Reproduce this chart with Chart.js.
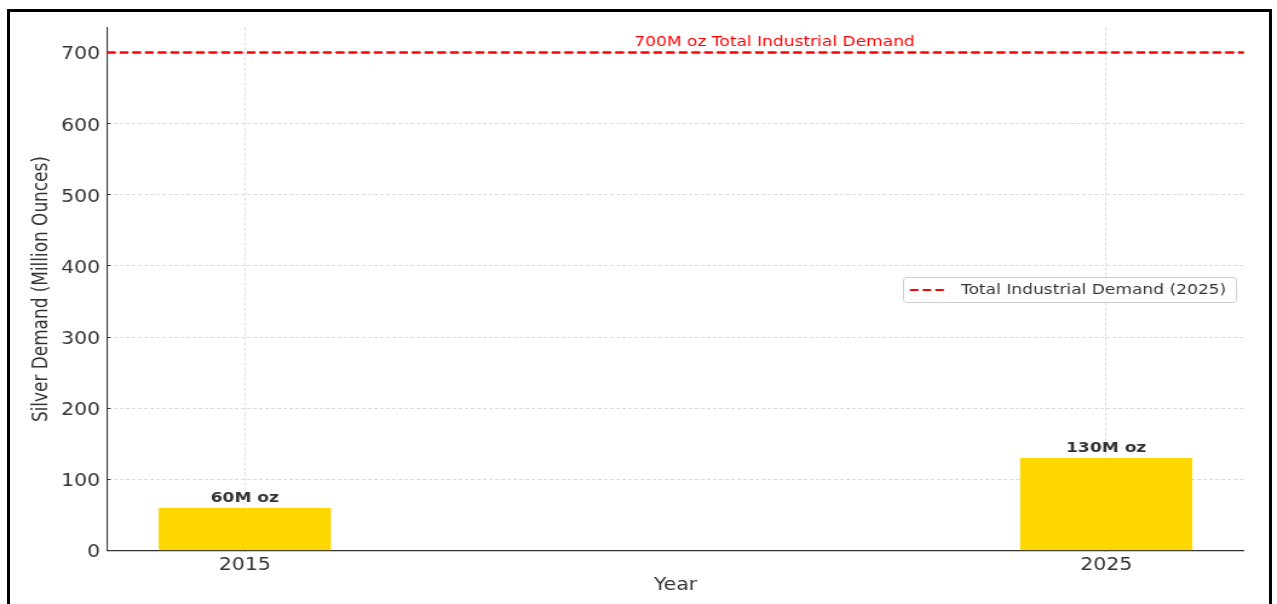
<!DOCTYPE html>
<html>
<head>
<meta charset="utf-8">
<script src="https://cdn.jsdelivr.net/npm/chart.js@4.4.1/dist/chart.umd.min.js"></script>
<style>
  html, body { margin: 0; padding: 0; background: #fff; width: 1277px; height: 604px; overflow: hidden; }
  /* the plot is drawn on a narrower canvas and widened horizontally */
  #plot { position: absolute; left: 0; top: 0; transform: scaleX(1.2104); transform-origin: 0 0; }
  #frame { position: absolute; left: 7px; top: 9px; width: 1265px; height: 660px; box-sizing: border-box;
           border: 3px solid #000; border-bottom: none; pointer-events: none; }
</style>
</head>
<body>
<canvas id="plot" width="1055" height="604"></canvas>
<div id="frame"></div>
<script>
// ---- data ----
const years = [2015, 2025];
const demand = [60, 130];                 // million ounces
const totalDemand = 700;                  // total industrial demand, 2025
const totalSeriesLabel = 'Total Industrial Demand (2025)';
const yTickValues = [0, 100, 200, 300, 400, 500, 600, 700];
const xRange = [2013.4, 2026.6];
const yRange = [0, 735];
const noteX = 2021.15;                    // where the red note is centred

// ---- styles ----
const FONT = "'DejaVu Sans', sans-serif";
const INK = '#333333';
const GRID = '#d0d0d0';
const GOLD = '#FFD700';
const RED = '#ff0000';
const SMALL = 14.1;
const LARGE = 16.9;

Chart.defaults.font.family = FONT;

const overlay = {
  id: 'overlay',
  afterDraw(chart) {
    const ctx = chart.ctx;
    const area = chart.chartArea;
    const xs = chart.scales.x, ys = chart.scales.y;

    // keep the dashed total line above the grid
    const lineMeta = chart.getDatasetMeta(1);
    ctx.save();
    ctx.beginPath();
    ctx.rect(area.left, area.top - 2, area.right - area.left, area.bottom - area.top + 4);
    ctx.clip();
    lineMeta.dataset.draw(ctx, area);
    ctx.restore();

    // value labels above the bars
    const barMeta = chart.getDatasetMeta(0);
    ctx.save();
    ctx.font = `bold ${SMALL}px ${FONT}`;
    ctx.fillStyle = INK;
    ctx.textAlign = 'center';
    ctx.textBaseline = 'alphabetic';
    barMeta.data.forEach((bar, i) => {
      ctx.fillText(`${demand[i]}M oz`, bar.x, bar.y - 6);
    });
    ctx.restore();

    // note above the total line
    ctx.save();
    ctx.font = `${SMALL}px ${FONT}`;
    ctx.fillStyle = RED;
    ctx.textAlign = 'center';
    ctx.textBaseline = 'alphabetic';
    ctx.fillText(`${totalDemand}M oz Total Industrial Demand`, xs.getPixelForValue(noteX), ys.getPixelForValue(totalDemand) - 6.3);
    ctx.restore();

    // legend
    const bx = 746.0, by = 277, bw = 275.1, bh = 25;
    ctx.save();
    ctx.beginPath();
    ctx.roundRect(bx + 0.5, by + 0.5, bw, bh, 3);
    ctx.fillStyle = 'rgba(255,255,255,0.8)';
    ctx.fill();
    ctx.strokeStyle = '#cccccc';
    ctx.lineWidth = 1;
    ctx.stroke();
    const ds = chart.data.datasets[1];
    const cy = by + bh / 2 + 0.5;
    ctx.beginPath();
    ctx.setLineDash(ds.borderDash);
    ctx.strokeStyle = ds.borderColor;
    ctx.lineWidth = ds.borderWidth;
    ctx.moveTo(bx + 5.8, cy);
    ctx.lineTo(bx + 34.7, cy);
    ctx.stroke();
    ctx.setLineDash([]);
    ctx.font = `${SMALL}px ${FONT}`;
    ctx.fillStyle = INK;
    ctx.textAlign = 'left';
    ctx.textBaseline = 'middle';
    ctx.fillText(ds.label, bx + 48, cy);
    ctx.restore();
  }
};

new Chart(document.getElementById('plot'), {
  type: 'bar',
  data: {
    datasets: [
      {
        type: 'bar',
        label: 'Silver Demand',
        data: years.map((x, i) => ({ x, y: demand[i] })),
        backgroundColor: GOLD,
        borderWidth: 0,
        categoryPercentage: 0.2,
        barPercentage: 1.0
      },
      {
        type: 'line',
        label: totalSeriesLabel,
        data: xRange.map(x => ({ x, y: totalDemand })),
        borderColor: RED,
        borderWidth: 2,
        borderDash: [7, 3.5],
        pointRadius: 0,
        fill: false
      }
    ]
  },
  options: {
    responsive: false,
    animation: false,
    devicePixelRatio: 1,
    layout: { padding: { left: 0, right: 27.24, top: 27.6, bottom: 0 } },
    plugins: { legend: { display: false }, tooltip: { enabled: false } },
    scales: {
      x: {
        type: 'linear',
        min: xRange[0],
        max: xRange[1],
        offset: false,
        z: 1,
        afterBuildTicks: s => { s.ticks = years.map(v => ({ value: v })); },
        afterFit: s => { s.height = 53.4; },
        ticks: { callback: v => String(v), font: { size: LARGE }, color: INK, padding: 8.8, maxRotation: 0, autoSkip: false },
        grid: { offset: false, color: GRID, lineWidth: 0.8, drawTicks: true, tickLength: -4, tickColor: INK, tickWidth: 1, tickBorderDash: [] },
        border: { display: true, color: INK, width: 1.3, dash: [3, 2] },
        title: { display: true, text: 'Year', font: { size: LARGE }, color: INK, padding: { top: 0, bottom: 8.2 } }
      },
      y: {
        type: 'linear',
        min: yRange[0],
        max: yRange[1],
        z: 1,
        afterBuildTicks: s => { s.ticks = yTickValues.map(v => ({ value: v })); },
        afterFit: s => { s.width = 88.4; },
        ticks: { font: { size: LARGE }, color: INK, padding: 8.6, labelOffset: 2.5 },
        grid: { color: GRID, lineWidth: 0.8, drawTicks: true, tickLength: -2.9, tickColor: INK, tickWidth: 1, tickBorderDash: [] },
        border: { display: true, color: INK, width: 1.1, dash: [3, 2] },
        title: { display: true, text: 'Silver Demand (Million Ounces)', font: { size: LARGE }, color: INK, padding: { top: 24.4, bottom: 0 } }
      }
    }
  },
  plugins: [overlay]
});
</script>
</body>
</html>
